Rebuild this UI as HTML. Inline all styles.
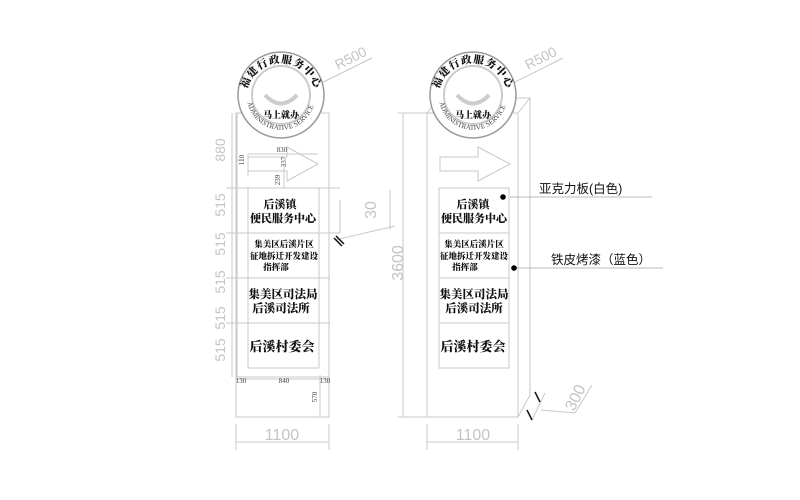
<!DOCTYPE html>
<html><head><meta charset="utf-8"><style>
html,body{margin:0;padding:0;background:#fff;}
svg{display:block;}
.g{fill:#c4c4c4;font-family:"Liberation Sans",sans-serif;}
.cn{font-family:"Liberation Serif","Noto Serif CJK SC",serif;fill:#111;font-weight:900;}
.lb{font-family:"Liberation Sans","Noto Sans CJK SC",sans-serif;fill:#111;}
.s{font-family:"Liberation Serif",serif;fill:#444;font-size:7px;}
</style></head><body>
<svg width="800" height="500" viewBox="0 0 800 500" xmlns="http://www.w3.org/2000/svg">
<defs>
<path id="arcT1" d="M246,98 A35,35 0 0 1 316,98"/>
<path id="arcB1" d="M248,104 A34,34 0 0 0 314,104"/>
<path id="arcT2" d="M438,98 A35,35 0 0 1 508,98"/>
<path id="arcB2" d="M440,104 A34,34 0 0 0 506,104"/>
</defs>
<g fill="none" stroke="#c8c8c8" stroke-width="1">
<rect x="236" y="113" width="93" height="264"/>
<rect x="236" y="377" width="93" height="40"/>
<rect x="248" y="188" width="71" height="45"/>
<rect x="248" y="233" width="71" height="45"/>
<rect x="248" y="278" width="71" height="45"/>
<rect x="248" y="323" width="71" height="45"/>
<line x1="232" y1="113" x2="232" y2="377"/>
<line x1="237" y1="113" x2="237" y2="377"/>
<line x1="226" y1="188" x2="340" y2="188"/>
<line x1="226" y1="233" x2="340" y2="233"/>
<line x1="226" y1="278" x2="330" y2="278"/>
<line x1="226" y1="323" x2="330" y2="323"/>
<line x1="236" y1="424" x2="236" y2="450"/><line x1="329" y1="424" x2="329" y2="450"/>
<line x1="236" y1="442" x2="329" y2="442"/>
<line x1="236" y1="379" x2="329" y2="379"/>
<line x1="320" y1="375" x2="320" y2="417"/>
<line x1="248" y1="154" x2="318" y2="154"/>
<line x1="248" y1="154" x2="248" y2="176"/>
<line x1="237" y1="160" x2="244" y2="160"/>
<line x1="284" y1="165" x2="284" y2="188"/>
<line x1="335" y1="240" x2="395" y2="226"/>
<line x1="390" y1="190" x2="390" y2="230"/>
<line x1="340" y1="233" x2="340" y2="200"/>
<path d="M248,157 L287,157 L287,147 L318,164 L287,181 L287,171 L248,171 Z"/>
<rect x="427" y="113" width="91" height="304"/>
<path d="M518,113 L530,98 L530,395 L518,417"/>
<path d="M427,113 L439,98 L530,98"/>
<rect x="439" y="188" width="70" height="45"/>
<rect x="439" y="233" width="70" height="45"/>
<rect x="439" y="278" width="70" height="45"/>
<rect x="439" y="323" width="70" height="45"/>
<path d="M440,157 L478,157 L478,147 L510,164 L478,181 L478,171 L440,171 Z"/>
<line x1="403" y1="113" x2="403" y2="417"/>
<line x1="398" y1="113" x2="427" y2="113"/><line x1="398" y1="417" x2="427" y2="417"/>
<line x1="427" y1="424" x2="427" y2="450"/><line x1="518" y1="424" x2="518" y2="450"/>
<line x1="427" y1="442" x2="518" y2="442"/>
<line x1="532" y1="420" x2="545" y2="393"/>
<line x1="541" y1="410" x2="575" y2="413"/>
<line x1="575" y1="413" x2="592" y2="385"/>
<line x1="510" y1="197" x2="652" y2="197" stroke="#bbb"/>
<line x1="514" y1="268" x2="663" y2="268" stroke="#bbb"/>
<line x1="297" y1="95" x2="372" y2="58"/>
<line x1="489" y1="95" x2="563" y2="58"/>
</g>
<g stroke="#111" stroke-width="1.5">
<line x1="336" y1="236" x2="344" y2="244"/><line x1="334" y1="238" x2="342" y2="246"/>
<line x1="535" y1="392" x2="540" y2="402"/><line x1="527" y1="410" x2="532" y2="420"/>
</g>
<circle cx="503" cy="197" r="2.8" fill="#000"/>
<circle cx="514" cy="268" r="2.8" fill="#000"/>
<g>
<circle cx="281" cy="95" r="43" fill="#fff" stroke="#999" stroke-width="1.5"/>
<circle cx="281" cy="95" r="29" fill="none" stroke="#ccc" stroke-width="2"/>
<path d="M265,95 Q281,112 297,95" fill="none" stroke="#ccc" stroke-width="4"/>
<text font-size="10.5" class="cn" letter-spacing="1"><textPath href="#arcT1" startOffset="50%" text-anchor="middle">福建行政服务中心</textPath></text>
<text x="281" y="118" font-size="9" class="cn" text-anchor="middle">马上就办</text>
<text font-size="3.5" class="s"><textPath href="#arcB1" startOffset="50%" text-anchor="middle">FUJIAN ADMINISTRATIVE SERVICE CENTER</textPath></text>
<circle cx="473" cy="95" r="43" fill="#fff" stroke="#999" stroke-width="1.5"/>
<circle cx="473" cy="95" r="29" fill="none" stroke="#ccc" stroke-width="2"/>
<path d="M457,95 Q473,112 489,95" fill="none" stroke="#ccc" stroke-width="4"/>
<text font-size="10.5" class="cn" letter-spacing="1"><textPath href="#arcT2" startOffset="50%" text-anchor="middle">福建行政服务中心</textPath></text>
<text x="473" y="118" font-size="9" class="cn" text-anchor="middle">马上就办</text>
<text font-size="3.5" class="s"><textPath href="#arcB2" startOffset="50%" text-anchor="middle">FUJIAN ADMINISTRATIVE SERVICE CENTER</textPath></text>
</g>
<text class="g" font-size="14" transform="translate(338,70) rotate(-27)">R500</text>
<text class="g" font-size="14" transform="translate(528,70) rotate(-27)">R500</text>
<g class="g" font-size="14" text-anchor="middle">
<text transform="translate(225,150) rotate(-90)">880</text>
<text transform="translate(225,205) rotate(-90)">515</text>
<text transform="translate(225,244) rotate(-90)">515</text>
<text transform="translate(225,282) rotate(-90)">515</text>
<text transform="translate(225,318) rotate(-90)">515</text>
<text transform="translate(225,350) rotate(-90)">515</text>
</g>
<g class="g" font-size="16" text-anchor="middle">
<text x="282" y="440">1100</text>
<text x="473" y="440">1100</text>
<text transform="translate(403,263) rotate(-90)">3600</text>
<text transform="translate(376,210) rotate(-90)">30</text>
<text transform="translate(580,400) rotate(-63)">300</text>
</g>
<g class="s" text-anchor="middle">
<text x="282" y="152">830</text>
<text x="284" y="383">840</text>
<text x="241" y="383">130</text>
<text x="325" y="383">130</text>
<text transform="translate(244,160) rotate(-90)">110</text>
<text transform="translate(286,162) rotate(-90)">337</text>
<text transform="translate(280,180) rotate(-90)">239</text>
<text transform="translate(317,397) rotate(-90)">570</text>
</g>
<g class="cn" text-anchor="middle">
<text x="280" y="208" font-size="11">后溪镇</text>
<text x="283" y="222" font-size="11">便民服务中心</text>
<text x="284" y="247" font-size="8.5">集美区后溪片区</text>
<text x="284" y="259" font-size="8.5">征地拆迁开发建设</text>
<text x="276" y="270" font-size="8.5">指挥部</text>
<text x="283" y="298" font-size="11.5">集美区司法局</text>
<text x="281" y="312" font-size="11.5">后溪司法所</text>
<text x="282" y="351" font-size="13">后溪村委会</text>
<text x="473" y="208" font-size="11">后溪镇</text>
<text x="474" y="222" font-size="11">便民服务中心</text>
<text x="474" y="247" font-size="8.5">集美区后溪片区</text>
<text x="474" y="259" font-size="8.5">征地拆迁开发建设</text>
<text x="465" y="270" font-size="8.5">指挥部</text>
<text x="474" y="298" font-size="11.5">集美区司法局</text>
<text x="474" y="312" font-size="11.5">后溪司法所</text>
<text x="473" y="351" font-size="13">后溪村委会</text>
</g>
<text x="539" y="193" font-size="12.5" class="lb">亚克力板(白色)</text>
<text x="551" y="264" font-size="12.5" class="lb">铁皮烤漆（蓝色）</text>
</svg>
</body></html>
